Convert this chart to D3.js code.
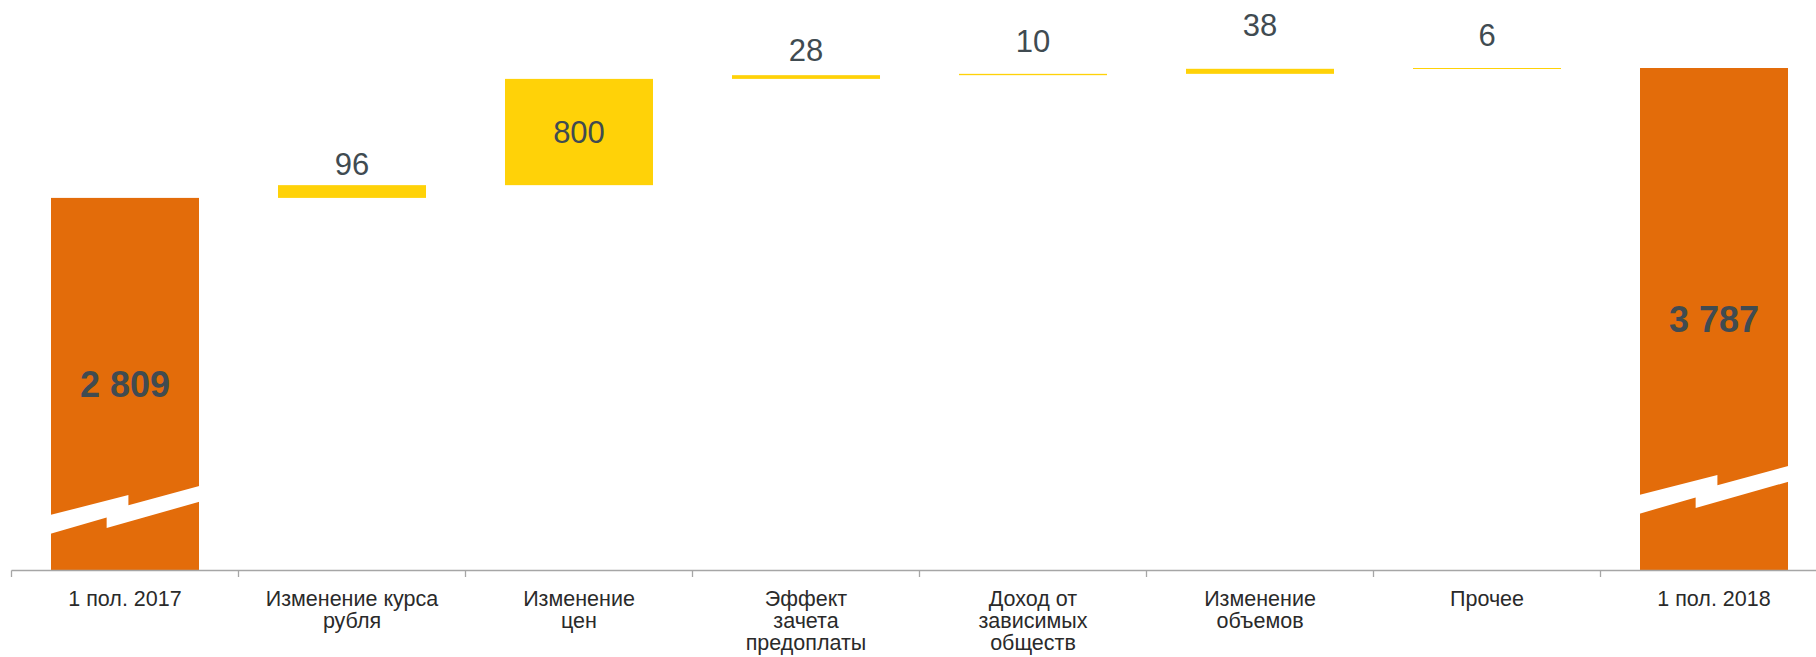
<!DOCTYPE html>
<html lang="ru">
<head>
<meta charset="utf-8">
<title>Водопад: 1 пол. 2017 – 1 пол. 2018</title>
<script src="https://cdn.jsdelivr.net/npm/d3@7"></script>
<style>
  html, body { margin: 0; padding: 0; background: #ffffff; }
  svg { display: block; }
  text { font-family: "Liberation Sans", Arial, "DejaVu Sans", sans-serif; }
</style>
</head>
<body>
<svg id="chart" width="1816" height="657"></svg>
<script>
// ---- data ----
const categories = [
  "1 пол. 2017",
  "Изменение курса\nрубля",
  "Изменение\nцен",
  "Эффект\nзачета\nпредоплаты",
  "Доход от\nзависимых\nобществ",
  "Изменение\nобъемов",
  "Прочее",
  "1 пол. 2018"
];
const values = [2809, 96, 800, 28, 10, 38, 6, 3787];
const isTotal = [true, false, false, false, false, false, false, true];

// ---- layout ----
const W = 1816, H = 657;
const axisY = 571;
const plotTop = 68;
const xStart = 11.5, xEnd = 1827.5;
const labelGap = [0, 10, 0, 14, 22, 33, 22, 0];   // space between a step bar and its value
const breakLift = [57, 0, 0, 0, 0, 0, 0, 77];      // height of the axis-break mark on total bars

const colors = { total: "#E36C0A", step: "#FFD208", value: "#404B51", cat: "#2A2A2A", axis: "#A6A6A6" };

const svg = d3.select("#chart");

// running totals for the floating steps
let run = 0;
const bars = values.map((v, i) => {
  let lo, hi;
  if (isTotal[i]) { lo = 0; hi = v; run = v; }
  else { lo = run; hi = run + v; run = hi; }
  return { i, cat: categories[i], value: v, lo, hi, total: isTotal[i] };
});

const x = d3.scaleBand()
  .domain(categories)
  .range([xStart, xEnd])
  .paddingInner(0.348)
  .paddingOuter(0.174);

const y = d3.scaleLinear()
  .domain([0, d3.max(values)])
  .range([axisY, plotTop]);

const fmt = d3.formatLocale({ decimal: ",", thousands: " ", grouping: [3], currency: ["", ""] }).format(",d");

// bars
svg.append("g").selectAll("rect")
  .data(bars)
  .join("rect")
  .attr("x", d => x(d.cat))
  .attr("width", x.bandwidth())
  .attr("y", d => y(d.hi))
  .attr("height", d => Math.max(1, y(d.lo) - y(d.hi)))
  .attr("fill", d => d.total ? colors.total : colors.step);

// axis-break marks (zig-zag white band) on the total bars
const bw = x.bandwidth();
svg.append("g").selectAll("polygon")
  .data(bars.filter(d => d.total))
  .join("polygon")
  .attr("fill", "#ffffff")
  .attr("points", d => {
    const x0 = x(d.cat), w = bw, y0 = y(0) - breakLift[d.i] + 0.8, e = 3;
    const pts = [
      [x0 - e, y0 + 0.8], [x0 + 0.523 * w, y0 - 19.8], [x0 + 0.523 * w, y0 - 9.6], [x0 + w + e, y0 - 29.6],
      [x0 + w + e, y0 - 13.8], [x0 + 0.376 * w, y0 + 13.2], [x0 + 0.376 * w, y0 + 2.7], [x0 - e, y0 + 19.6]
    ];
    return pts.map(p => p.join(",")).join(" ");
  });

// axis line and band-boundary ticks
const axis = svg.append("g");
axis.append("line")
  .attr("x1", xStart).attr("x2", W)
  .attr("y1", axisY - 0.5).attr("y2", axisY - 0.5)
  .attr("stroke", colors.axis).attr("stroke-width", 1.6);
axis.selectAll("line.tick")
  .data(d3.range(categories.length + 1))
  .join("line")
  .attr("class", "tick")
  .attr("x1", i => xStart + i * x.step()).attr("x2", i => xStart + i * x.step())
  .attr("y1", axisY - 0.5).attr("y2", axisY + 6)
  .attr("stroke", colors.axis).attr("stroke-width", 1.3);

// category labels
const catG = svg.append("g");
catG.selectAll("text")
  .data(bars)
  .join("text")
  .attr("x", d => x(d.cat) + bw / 2)
  .attr("y", 606)
  .attr("text-anchor", "middle")
  .attr("font-size", 21.5)
  .attr("fill", colors.cat)
  .each(function (d) {
    const lines = d.cat.split("\n");
    d3.select(this).selectAll("tspan")
      .data(lines)
      .join("tspan")
      .attr("x", x(d.cat) + bw / 2)
      .attr("dy", (l, k) => k === 0 ? 0 : 22)
      .text(l => l);
  });

// value labels
svg.append("g").selectAll("text")
  .data(bars)
  .join("text")
  .attr("x", d => x(d.cat) + bw / 2)
  .attr("text-anchor", "middle")
  .attr("fill", colors.value)
  .attr("font-size", d => d.total ? 36 : 31)
  .attr("font-weight", d => d.total ? "bold" : "normal")
  .attr("dominant-baseline", d => (d.total || y(d.lo) - y(d.hi) > 60) ? "central" : "auto")
  .attr("y", d => {
    const h = y(d.lo) - y(d.hi);
    if (d.total || h > 60) return (y(d.lo) + y(d.hi)) / 2;
    return y(d.hi) - labelGap[d.i];
  })
  .text(d => fmt(d.value));
</script>
</body>
</html>
